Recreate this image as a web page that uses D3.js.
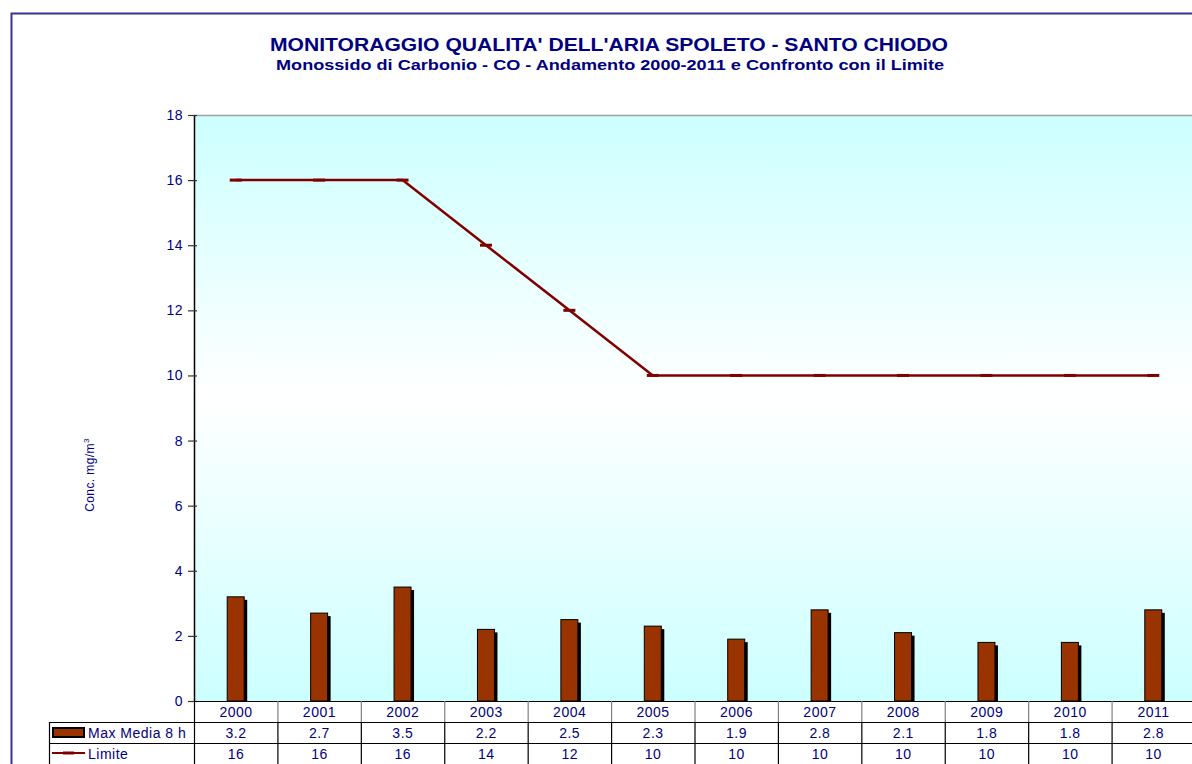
<!DOCTYPE html>
<html>
<head>
<meta charset="utf-8">
<script src="https://cdn.jsdelivr.net/npm/d3@7"></script>
<style>
  body { margin: 0; background: #fff; }
  text { font-family: "Liberation Sans", Arial, sans-serif; fill: #000080; }
</style>
</head>
<body>
<div class="chart"></div>
<script>
var years = ["2000", "2001", "2002", "2003", "2004", "2005", "2006", "2007", "2008", "2009", "2010", "2011"];
var maxMedia = [3.2, 2.7, 3.5, 2.2, 2.5, 2.3, 1.9, 2.8, 2.1, 1.8, 1.8, 2.8];
var limite = [16, 16, 16, 14, 12, 10, 10, 10, 10, 10, 10, 10];
var yTicks = [0, 2, 4, 6, 8, 10, 12, 14, 16, 18];
var seriesNames = ["Max Media 8 h", "Limite"];

var svgWidth = 1192;
var svgHeight = 764;

var plot = { left: 194, right: 1195, top: 115, bottom: 701 };

var svg = d3.select(".chart")
  .append("svg")
  .attr("width", svgWidth)
  .attr("height", svgHeight);

// background gradient of the plot area (cyan - white - cyan)
var defs = svg.append("defs");
var grad = defs.append("linearGradient")
  .attr("id", "bg")
  .attr("x1", 0).attr("y1", 0).attr("x2", 0).attr("y2", 1);
grad.append("stop").attr("offset", "0%").attr("stop-color", "#ccffff");
grad.append("stop").attr("offset", "48%").attr("stop-color", "#ffffff");
grad.append("stop").attr("offset", "100%").attr("stop-color", "#ccffff");

// outer chart border
svg.append("rect")
  .attr("x", 11.5).attr("y", 13.5)
  .attr("width", 1300).attr("height", 900)
  .attr("fill", "none")
  .attr("stroke", "#333399")
  .attr("stroke-width", 2);

// titles (stretched a bit, like the original)
svg.append("text")
  .attr("x", 270).attr("y", 51)
  .attr("textLength", 678)
  .attr("lengthAdjust", "spacingAndGlyphs")
  .style("font-size", "19px").style("font-weight", "bold")
  .text("MONITORAGGIO QUALITA' DELL'ARIA SPOLETO - SANTO CHIODO");

svg.append("text")
  .attr("x", 276).attr("y", 70)
  .attr("textLength", 668)
  .attr("lengthAdjust", "spacingAndGlyphs")
  .style("font-size", "15px").style("font-weight", "bold")
  .text("Monossido di Carbonio - CO - Andamento 2000-2011 e Confronto con il Limite");

var x = d3.scaleBand()
  .domain(years)
  .range([plot.left, plot.right])
  .padding(0);

var y = d3.scaleLinear()
  .domain([0, 18])
  .range([plot.bottom, plot.top]);

// plot area
svg.append("rect")
  .attr("x", plot.left).attr("y", plot.top)
  .attr("width", plot.right - plot.left)
  .attr("height", plot.bottom - plot.top)
  .attr("fill", "url(#bg)");

svg.append("line")
  .attr("x1", plot.left).attr("x2", plot.right)
  .attr("y1", plot.top + 0.5).attr("y2", plot.top + 0.5)
  .attr("stroke", "#a0a0a0")
  .attr("stroke-width", 1.5);

// y axis
var leftAxis = d3.axisLeft(y)
  .tickValues(yTicks)
  .tickSize(0)
  .tickPadding(11);

var yAxis = svg.append("g")
  .attr("transform", `translate(${plot.left}, 0)`)
  .call(leftAxis);
yAxis.select(".domain").attr("stroke", "#000").attr("stroke-width", 1.5);
yAxis.selectAll(".tick text")
  .style("font-size", "14px")
  .style("letter-spacing", "0.5px")
  .attr("fill", "#000080")
  .style("font-family", "Liberation Sans, Arial, sans-serif");
yAxis.selectAll(".tick").append("line")
  .attr("x1", -6).attr("x2", 3)
  .attr("stroke", "#333")
  .attr("stroke-width", 1.2);

// y label
var yLabel = svg.append("text")
  .attr("transform", "translate(94, 475) rotate(-90)")
  .attr("text-anchor", "middle")
  .style("font-size", "12px")
  .style("letter-spacing", "0.4px");
yLabel.append("tspan").text("Conc. mg/m");
yLabel.append("tspan").attr("dy", -5).style("font-size", "8px").text("3");

// bars
var barW = 17;
var bars = svg.append("g");
bars.selectAll("rect.shadow")
  .data(maxMedia)
  .enter()
  .append("rect")
  .attr("class", "shadow")
  .attr("x", (d, i) => x(years[i]) + x.bandwidth() / 2 - barW / 2 + 3)
  .attr("y", d => y(d) + 3)
  .attr("width", barW)
  .attr("height", d => plot.bottom - y(d) - 3)
  .attr("fill", "#000");

bars.selectAll("rect.bar")
  .data(maxMedia)
  .enter()
  .append("rect")
  .attr("class", "bar")
  .attr("x", (d, i) => x(years[i]) + x.bandwidth() / 2 - barW / 2)
  .attr("y", d => y(d))
  .attr("width", barW)
  .attr("height", d => plot.bottom - y(d))
  .attr("fill", "#993300")
  .attr("stroke", "#000")
  .attr("stroke-width", 1);

// limit line
var line = d3.line()
  .x((d, i) => x(years[i]) + x.bandwidth() / 2)
  .y(d => y(d));

svg.append("path")
  .datum(limite)
  .attr("d", line)
  .attr("fill", "none")
  .attr("stroke", "#800000")
  .attr("stroke-width", 2.5);

svg.selectAll("line.marker")
  .data(limite)
  .enter()
  .append("line")
  .attr("class", "marker")
  .attr("x1", (d, i) => x(years[i]) + x.bandwidth() / 2 - 6)
  .attr("x2", (d, i) => x(years[i]) + x.bandwidth() / 2 + 6)
  .attr("y1", d => y(d))
  .attr("y2", d => y(d))
  .attr("stroke", "#800000")
  .attr("stroke-width", 3);

// data table
var rowH = 21;
var tableLeft = 49;
var table = svg.append("g");

// horizontal lines
table.append("line")
  .attr("x1", plot.left).attr("x2", plot.right)
  .attr("y1", plot.bottom + 0.5).attr("y2", plot.bottom + 0.5)
  .attr("stroke", "#000").attr("stroke-width", 1.2);
[1, 2, 3].forEach(function(r) {
  table.append("line")
    .attr("x1", tableLeft).attr("x2", plot.right)
    .attr("y1", plot.bottom + r * rowH + 0.5).attr("y2", plot.bottom + r * rowH + 0.5)
    .attr("stroke", "#000").attr("stroke-width", 1.2);
});

// vertical lines
table.append("line")
  .attr("x1", tableLeft + 0.5).attr("x2", tableLeft + 0.5)
  .attr("y1", plot.bottom + rowH).attr("y2", plot.bottom + 3 * rowH)
  .attr("stroke", "#000").attr("stroke-width", 1.2);
years.forEach(function(yr, i) {
  var xx = x(yr) + 0.5;
  table.append("line")
    .attr("x1", xx).attr("x2", xx)
    .attr("y1", plot.bottom).attr("y2", plot.bottom + rowH)
    .attr("stroke", i === 0 ? "#000" : "#808080").attr("stroke-width", 1.2);
  table.append("line")
    .attr("x1", xx).attr("x2", xx)
    .attr("y1", plot.bottom + rowH).attr("y2", plot.bottom + 3 * rowH)
    .attr("stroke", "#000").attr("stroke-width", 1.2);
});

// cell texts
var rows = [years, maxMedia, limite];
rows.forEach(function(row, r) {
  table.selectAll("text.r" + r)
    .data(row)
    .enter()
    .append("text")
    .attr("class", "r" + r)
    .attr("x", (d, i) => x(years[i]) + x.bandwidth() / 2 + 0.3)
    .attr("y", plot.bottom + r * rowH + 16)
    .attr("text-anchor", "middle")
    .style("font-size", "14px")
    .style("letter-spacing", "0.5px")
    .text(d => String(d));
});

// legend keys
table.append("rect")
  .attr("x", 53).attr("y", plot.bottom + rowH + 6)
  .attr("width", 31).attr("height", 9)
  .attr("fill", "#993300")
  .attr("stroke", "#000")
  .attr("stroke-width", 2);
table.append("line")
  .attr("x1", 52).attr("x2", 85)
  .attr("y1", plot.bottom + 2 * rowH + 10).attr("y2", plot.bottom + 2 * rowH + 10)
  .attr("stroke", "#800000").attr("stroke-width", 2);
table.append("line")
  .attr("x1", 63).attr("x2", 74)
  .attr("y1", plot.bottom + 2 * rowH + 10).attr("y2", plot.bottom + 2 * rowH + 10)
  .attr("stroke", "#800000").attr("stroke-width", 3);

seriesNames.forEach(function(name, i) {
  table.append("text")
    .attr("x", 88)
    .attr("y", plot.bottom + (i + 1) * rowH + 16)
    .style("font-size", "14px")
    .style("letter-spacing", "0.5px")
    .text(name);
});
</script>
</body>
</html>
